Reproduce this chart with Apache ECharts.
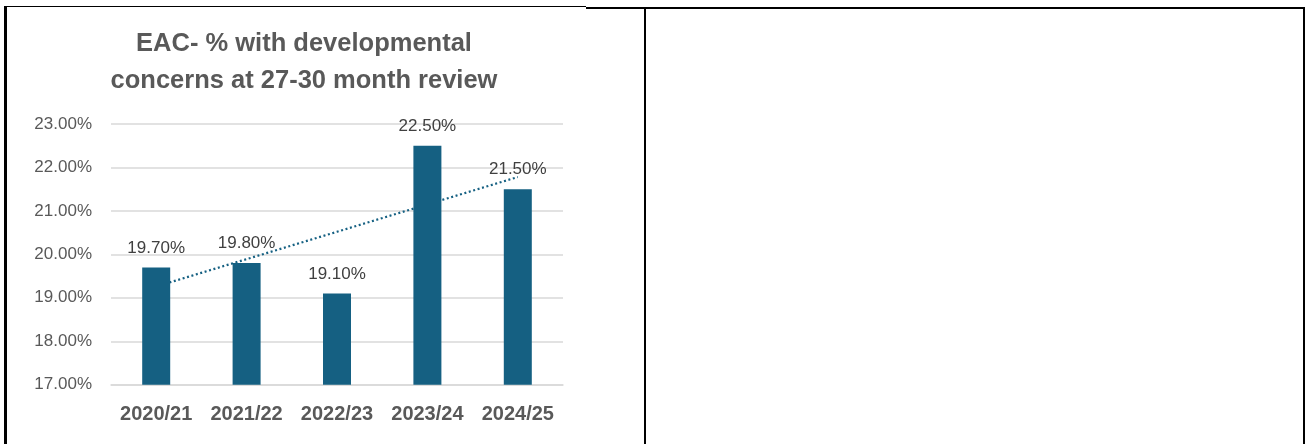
<!DOCTYPE html>
<html>
<head>
<meta charset="utf-8">
<title>EAC- % with developmental concerns at 27-30 month review</title>
<script src="https://cdn.jsdelivr.net/npm/echarts@6/dist/echarts.min.js"></script>
<style>
  html, body { margin: 0; padding: 0; background: #ffffff; }
  #page { position: relative; width: 1306px; height: 444px; overflow: hidden; }
  #chart { position: absolute; left: 0; top: 0; width: 1306px; height: 444px; }
  .rule { position: absolute; background: #000000; }
</style>
</head>
<body>
<div id="page">
  <div id="chart"></div>
  <!-- table cell borders around the chart -->
  <div class="rule" style="left:5px; top:6px; width:581px; height:1px;"></div>
  <div class="rule" style="left:586px; top:6.5px; width:719px; height:2px;"></div>
  <div class="rule" style="left:4px; top:6px; width:3px; height:438px;"></div>
  <div class="rule" style="left:644px; top:7px; width:2px; height:437px;"></div>
  <div class="rule" style="left:1303px; top:7px; width:2px; height:437px;"></div>
</div>
<script>
// Review years and the share of children with developmental concerns (%)
const categories = ['2020/21', '2021/22', '2022/23', '2023/24', '2024/25'];
const concernPct = [19.7, 19.8, 19.1, 22.5, 21.5];

// Value axis range and step (percent)
const axisMin = 17;
const axisMax = 23;
const axisStep = 1;

const titleLines = ['EAC- % with developmental', 'concerns at 27-30 month review'];

const barColor = '#156082';
const gridColor = '#d9d9d9';

// Least-squares linear trend over the yearly values
function linearTrend(values) {
  const n = values.length;
  let sx = 0, sy = 0, sxy = 0, sxx = 0;
  values.forEach(function (v, i) {
    const x = i + 1;
    sx += x; sy += v; sxy += x * v; sxx += x * x;
  });
  const slope = (n * sxy - sx * sy) / (n * sxx - sx * sx);
  const intercept = (sy - slope * sx) / n;
  return values.map(function (_, i) { return intercept + slope * (i + 1); });
}

const chart = echarts.init(document.getElementById('chart'), null, { renderer: 'canvas' });

chart.setOption({
  animation: false,
  backgroundColor: '#ffffff',
  graphic: [
    {
      type: 'text', x: 304, y: 44, silent: true,
      style: {
        text: titleLines[0], align: 'center', verticalAlign: 'middle',
        font: 'bold 25.5px "Liberation Sans", Arial, sans-serif', fill: '#595959'
      }
    },
    {
      type: 'text', x: 304, y: 80.5, silent: true,
      style: {
        text: titleLines[1], align: 'center', verticalAlign: 'middle',
        font: 'bold 25.5px "Liberation Sans", Arial, sans-serif', fill: '#595959'
      }
    }
  ],
  grid: { left: 111, right: 743, top: 124, bottom: 59.3 },
  xAxis: {
    type: 'category',
    data: categories,
    axisTick: { show: false },
    axisLine: { show: true, lineStyle: { color: gridColor, width: 1.5 } },
    axisLabel: {
      interval: 0,
      hideOverlap: false,
      margin: 20,
      color: '#595959',
      fontSize: 20,
      fontWeight: 'bold',
      fontFamily: '"Liberation Sans", Arial, sans-serif'
    }
  },
  yAxis: {
    type: 'value',
    min: axisMin,
    max: axisMax,
    interval: axisStep,
    axisLine: { show: false },
    axisTick: { show: false },
    axisLabel: {
      margin: 19,
      color: '#595959',
      fontSize: 17,
      fontFamily: '"Liberation Sans", Arial, sans-serif',
      formatter: function (v) { return v.toFixed(2) + '%'; }
    },
    splitLine: { show: true, lineStyle: { color: gridColor, width: 1.5 } }
  },
  series: [
    {
      name: 'Linear trend',
      type: 'line',
      data: linearTrend(concernPct),
      symbol: 'none',
      silent: true,
      z: 1,
      lineStyle: { color: barColor, width: 2.2, type: [2, 2.6], cap: 'butt' }
    },
    {
      name: 'Developmental concerns',
      type: 'bar',
      data: concernPct,
      barWidth: 28,
      z: 2,
      itemStyle: { color: barColor },
      label: {
        show: true,
        position: 'top',
        distance: 11,
        color: '#404040',
        fontSize: 17,
        fontFamily: '"Liberation Sans", Arial, sans-serif',
        formatter: function (p) { return p.value.toFixed(2) + '%'; }
      }
    }
  ]
});
</script>
</body>
</html>
